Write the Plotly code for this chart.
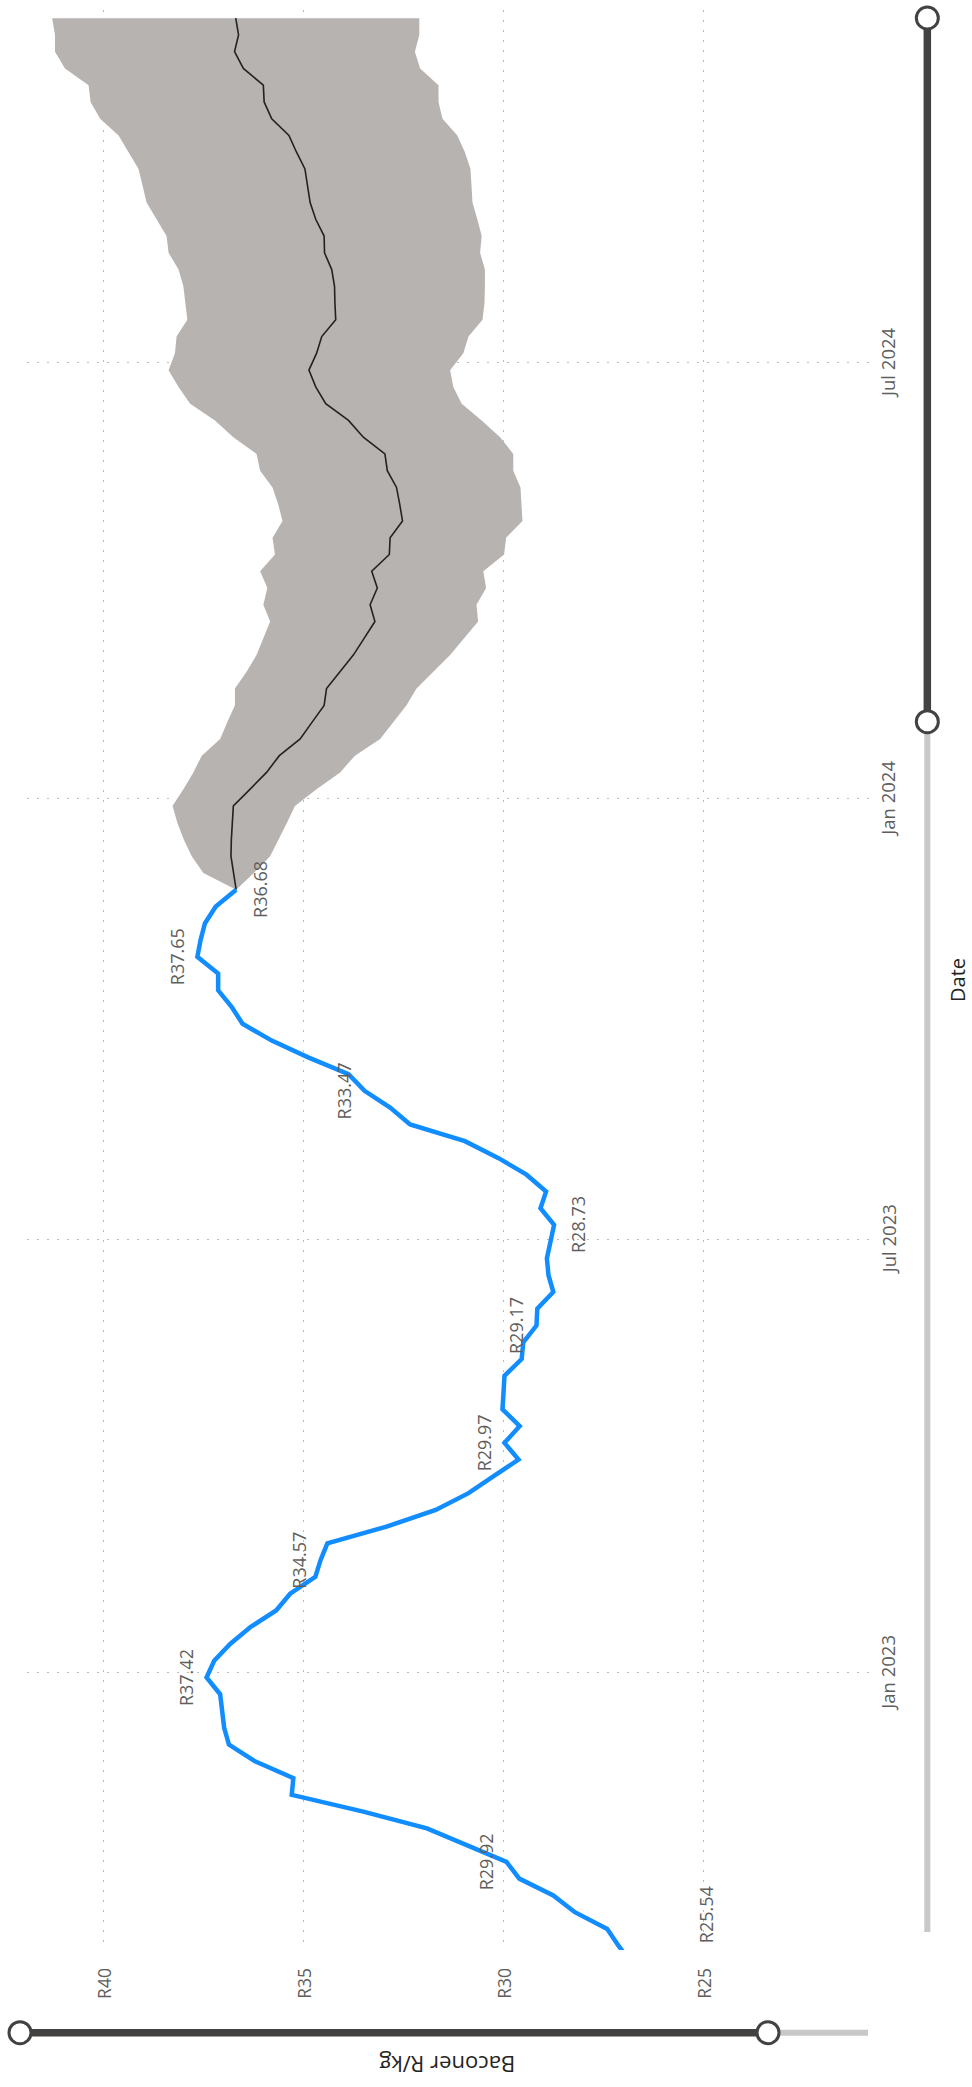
import pandas as pd
import plotly.graph_objects as go

# ---------------- data ----------------
first_point_date = "2022-08-05"      # earliest observation (below the visible date range)
first_point_val = 25.54
weekly_start = "2022-09-09"          # weekly observations from here on
weekly_vals = [27.12, 27.40, 28.21, 28.75, 29.60, 29.92, 30.94, 31.91, 33.50,
               35.29, 35.25, 36.21, 36.86, 36.98, 37.03, 37.08, 37.42, 37.23, 36.83,
               36.33, 35.68, 35.33, 34.70, 34.57, 34.40, 32.92, 31.69, 30.87, 30.25,
               29.62, 29.97, 29.59, 30.02, 29.99, 29.97, 29.54, 29.50, 29.17, 29.15,
               28.75, 28.87, 28.91, 28.83, 28.73, 29.07, 28.93, 29.42, 30.13, 30.96,
               32.33, 32.83, 33.47, 33.87, 34.88, 35.79, 36.52, 36.79, 37.13, 37.13,
               37.65, 37.57, 37.46, 37.19, 36.68]

forecast_start = "2023-11-24"
forecast_vals = [36.68, 36.75, 36.81, 36.80, 36.78, 36.75, 36.33, 35.92, 35.60, 35.08,
                 34.78, 34.48, 34.42, 34.08, 33.75, 33.48, 33.21, 33.33, 33.15, 33.29,
                 32.85, 32.83, 32.52, 32.59, 32.67, 32.90, 32.96, 33.50, 33.87, 34.44,
                 34.69, 34.86, 34.67, 34.54, 34.19, 34.21, 34.22, 34.29, 34.47, 34.48,
                 34.69, 34.83, 34.90, 34.96, 35.17, 35.36, 35.79, 35.98, 36.00, 36.50,
                 36.72, 36.62, 36.69]
upper_vals = [36.68, 37.50, 37.79, 37.99, 38.15, 38.27, 38.00, 37.75, 37.54, 37.08,
              36.90, 36.71, 36.71, 36.42, 36.17, 36.00, 35.83, 36.00, 35.90, 36.08,
              35.71, 35.77, 35.52, 35.63, 35.77, 36.08, 36.17, 36.75, 37.21, 37.83,
              38.12, 38.37, 38.21, 38.17, 37.90, 37.95, 38.00, 38.12, 38.37, 38.42,
              38.67, 38.92, 39.02, 39.12, 39.37, 39.62, 40.08, 40.32, 40.37, 40.96,
              41.21, 41.21, 41.28]
lower_vals = [36.68, 36.24, 35.83, 35.61, 35.41, 35.21, 34.67, 34.08, 33.71, 33.08,
              32.75, 32.42, 32.17, 31.75, 31.33, 30.98, 30.63, 30.67, 30.43, 30.50,
              29.98, 29.93, 29.52, 29.54, 29.57, 29.75, 29.75, 30.08, 30.54, 31.04,
              31.25, 31.33, 31.00, 30.87, 30.52, 30.47, 30.46, 30.46, 30.58, 30.54,
              30.65, 30.77, 30.79, 30.82, 30.96, 31.15, 31.52, 31.62, 31.62, 32.08,
              32.21, 32.10, 32.10]

# indices (into the full actual series) of labelled points and their label side
label_idx = [0, 6, 17, 24, 31, 38, 44, 52, 60, 64]
label_side = ["below", "above", "above", "above", "above", "above", "below", "above", "above", "below"]

value_ticks = [25, 30, 35, 40]
date_ticks = ["2023-01-01", "2023-07-01", "2024-01-01", "2024-07-01"]
date_tick_text = ["Jan 2023", "Jul 2023", "Jan 2024", "Jul 2024"]

x_range = [41.91, 20.83]
y_range = ["2022-09-07 04:48", "2024-11-25 09:36"]

# ---------------- figure ----------------
adates = [pd.Timestamp(first_point_date)] + list(
    pd.date_range(weekly_start, periods=len(weekly_vals), freq="7D"))
actual_vals = [first_point_val] + weekly_vals
fdates = list(pd.date_range(forecast_start, periods=len(forecast_vals), freq="7D"))

FONT = "Open Sans"
TXT = "#605E5C"
GRID = "#BDBBB9"
TITLE = "#252423"

fig = go.Figure()
fig.add_trace(go.Scatter(
    x=list(upper_vals) + list(lower_vals[::-1]),
    y=fdates + fdates[::-1],
    fill="toself", fillcolor="#B7B3B1", mode="lines",
    line=dict(width=0, color="#B7B3B1"), hoverinfo="skip"))
fig.add_trace(go.Scatter(x=forecast_vals, y=fdates, mode="lines",
                         line=dict(color="#222222", width=1.6)))
fig.add_trace(go.Scatter(x=actual_vals, y=adates, mode="lines",
                         line=dict(color="#118DFF", width=4.5)))

y0 = pd.Timestamp(y_range[0])
for i, side in zip(label_idx, label_side):
    v = actual_vals[i]
    xs = -21 if side == "above" else 24
    if adates[i] < y0:   # point lies below the visible range: label clamped inside
        fig.add_annotation(x=v, y=0, xref="x", yref="paper", yshift=35.5, xshift=xs,
                           text=f"R{v:.2f}", showarrow=False, textangle=-90,
                           xanchor="center", yanchor="middle",
                           font=dict(family=FONT, size=18, color=TXT))
    else:
        fig.add_annotation(x=v, y=adates[i], xref="x", yref="y", xshift=xs,
                           text=f"R{v:.2f}", showarrow=False, textangle=-90,
                           xanchor="center", yanchor="middle",
                           font=dict(family=FONT, size=18, color=TXT))

# tick labels (rotated with the chart)
for t in value_ticks:
    fig.add_annotation(x=t, y=0, xref="x", yref="paper", yshift=-33.5,
                       text=f"R{t}", showarrow=False, textangle=-90,
                       xanchor="center", yanchor="middle",
                       font=dict(family=FONT, size=17.5, color=TXT))
for d, lab in zip(date_ticks, date_tick_text):
    fig.add_annotation(x=1, y=d, xref="paper", yref="y", xshift=18,
                       text=lab, showarrow=False, textangle=-90,
                       xanchor="center", yanchor="middle",
                       font=dict(family=FONT, size=18.5, color=TXT))

# axis titles
fig.add_annotation(x=0.4983, y=-0.0593, xref="paper", yref="paper", text="Baconer R/kg",
                   showarrow=False, textangle=180, xanchor="center", yanchor="middle",
                   font=dict(family=FONT, size=22, color=TITLE))
fig.add_annotation(x=1.1032, y=0.5, xref="paper", yref="paper", text="Date",
                   showarrow=False, textangle=-90, xanchor="center", yanchor="middle",
                   font=dict(family=FONT, size=20, color=TITLE))

# zoom sliders (decorative)
DARK = "#444240"
LIGHT = "#C8C8C8"
xr = 1.0680
yb = -0.04263
shapes = [
    dict(type="line", xref="paper", yref="paper", x0=xr, x1=xr, y0=0.00928, y1=0.63314,
         line=dict(color=LIGHT, width=6)),
    dict(type="line", xref="paper", yref="paper", x0=xr, x1=xr, y0=0.63314, y1=0.99588,
         line=dict(color=DARK, width=7.5)),
    dict(type="line", xref="paper", yref="paper", x0=0.8790, x1=0.9976, y0=yb, y1=yb,
         line=dict(color=LIGHT, width=6)),
    dict(type="line", xref="paper", yref="paper", x0=-0.0083, x1=0.8790, y0=yb, y1=yb,
         line=dict(color=DARK, width=7.5)),
]
for cx, cy in [(xr, 0.99588), (xr, 0.63314), (-0.0083, yb), (0.8790, yb)]:
    shapes.append(dict(type="circle", xref="paper", yref="paper",
                       xsizemode="pixel", ysizemode="pixel", xanchor=cx, yanchor=cy,
                       x0=-11, x1=11, y0=-11, y1=11,
                       line=dict(color=DARK, width=3), fillcolor="white"))

fig.update_layout(
    width=972, height=2087,
    margin=dict(l=27, r=102, t=10, b=137),
    paper_bgcolor="white", plot_bgcolor="white",
    showlegend=False, shapes=shapes, hovermode=False,
    font=dict(family=FONT, size=17.5, color=TXT),
    xaxis=dict(range=x_range, tickvals=value_ticks, showticklabels=False,
               showgrid=True, gridcolor=GRID, gridwidth=1.4, griddash="2px,8px",
               zeroline=False, showline=False, ticks=""),
    yaxis=dict(type="date", range=y_range, tickvals=date_ticks, showticklabels=False,
               showgrid=True, gridcolor=GRID, gridwidth=1.4, griddash="2px,8px",
               zeroline=False, showline=False, ticks=""),
)

fig.write_html("out.html",
               config={"displayModeBar": False},
               post_script="document.body.style.margin='0px';"
                           "document.body.style.overflow='hidden';")
